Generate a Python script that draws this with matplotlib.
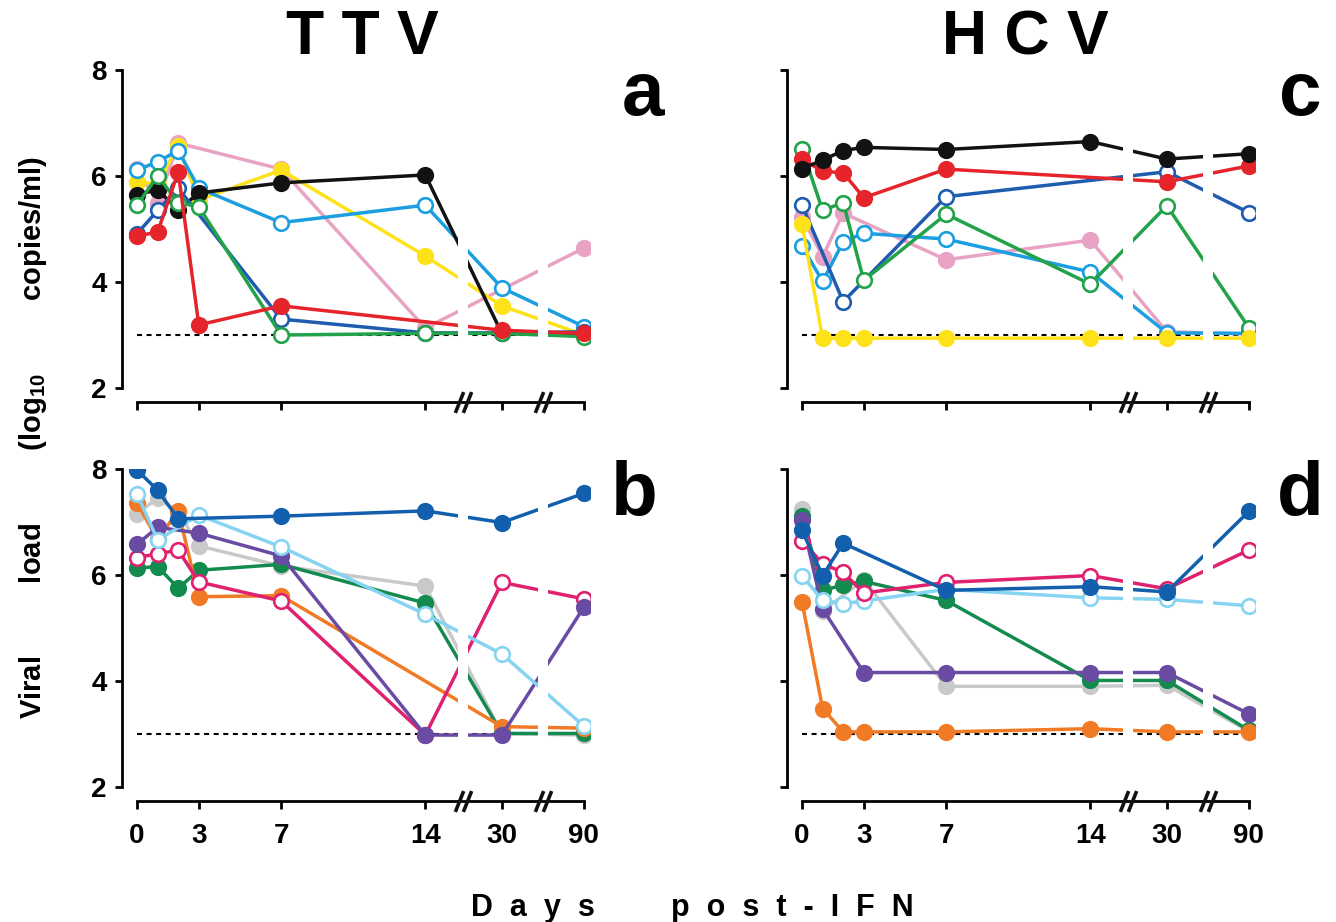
import numpy as np
import matplotlib
matplotlib.use("Agg")
import matplotlib.pyplot as plt
from matplotlib import transforms

plt.rcParams['font.family'] = ['Liberation Sans', 'DejaVu Sans']
plt.rcParams['font.weight'] = 'bold'
plt.rcParams['mathtext.fontset'] = 'custom'
plt.rcParams['mathtext.rm'] = 'Liberation Sans:bold'
plt.rcParams['mathtext.bf'] = 'Liberation Sans:bold'
plt.rcParams['mathtext.it'] = 'Liberation Sans:bold'

# ---------------- data ----------------
days = [0, 1, 2, 3, 7, 14, 30, 90]
tick_days = [0, 3, 7, 14, 30, 90]
tick_labels = ["0", "3", "7", "14", "30", "90"]
nan = np.nan

# group 1 (panels a: TTV, c: HCV)
ttv_a_black = [5.65, 5.74, 5.36, 5.68, 5.87, 6.02, 3.03, 3.00]
ttv_a_red = [4.87, 4.94, 6.08, 3.19, 3.55, nan, 3.09, 3.03]
ttv_a_blue = [4.91, 5.35, 5.77, nan, 3.30, 3.04, 3.04, 3.06]
ttv_a_green = [5.45, 6.00, 5.50, 5.42, 3.00, 3.03, 3.03, 2.97]
ttv_a_pink = [6.13, 5.50, 6.62, nan, 6.13, 3.13, nan, 4.64]
ttv_a_yellow = [5.89, 5.85, 6.57, 5.55, 6.11, 4.49, 3.55, 3.00]
ttv_a_cyan = [6.11, 6.27, 6.48, 5.77, 5.12, 5.45, 3.89, 3.16]

hcv_c_black = [6.14, 6.30, 6.48, 6.54, 6.50, 6.65, 6.32, 6.42]
hcv_c_red = [6.32, 6.09, 6.06, 5.59, 6.13, nan, 5.89, 6.19]
hcv_c_blue = [5.45, nan, 3.63, nan, 5.61, nan, 6.08, 5.31]
hcv_c_green = [6.51, 5.35, 5.50, 4.03, 5.28, 3.96, 5.44, 3.14]
hcv_c_pink = [5.23, 4.48, 5.30, nan, 4.42, 4.79, 3.06, 3.02]
hcv_c_yellow = [5.09, 2.94, 2.94, 2.94, 2.94, 2.94, 2.94, 2.94]
hcv_c_cyan = [4.68, 4.01, 4.76, 4.92, 4.81, 4.19, 3.04, 3.03]

# group 2 (panels b: TTV, d: HCV)
ttv_b_blue = [7.98, 7.60, 7.06, nan, 7.11, 7.21, 6.99, 7.54]
ttv_b_lightblue = [7.53, 6.66, nan, 7.13, 6.53, 5.26, 4.51, 3.15]
ttv_b_orange = [7.36, 6.67, 7.21, 5.59, 5.61, nan, 3.14, 3.11]
ttv_b_gray = [7.16, 7.45, 7.19, 6.55, 6.17, 5.79, 3.01, 2.98]
ttv_b_purple = [6.58, 6.90, nan, 6.79, 6.36, 2.98, 2.98, 5.39]
ttv_b_magenta = [6.33, 6.40, 6.47, 5.87, 5.51, 2.98, 5.86, 5.55]
ttv_b_green = [6.13, 6.16, 5.75, 6.09, 6.20, 5.47, 3.01, 3.01]

hcv_d_blue = [6.84, 5.99, 6.60, nan, 5.71, 5.78, 5.68, 7.20]
hcv_d_lightblue = [5.99, 5.52, 5.46, 5.51, 5.73, 5.57, 5.54, 5.42]
hcv_d_orange = [5.49, 3.48, 3.04, 3.04, 3.04, 3.10, 3.04, 3.04]
hcv_d_gray = [7.25, 5.32, nan, 5.91, 3.90, 3.90, 3.92, 3.05]
hcv_d_purple = [7.03, 5.36, nan, 4.16, 4.16, 4.16, 4.16, 3.38]
hcv_d_magenta = [6.65, 6.21, 6.05, 5.66, 5.86, 5.99, 5.74, 6.47]
hcv_d_green = [7.12, 5.71, 5.81, 5.88, 5.52, 4.01, 4.01, 3.07]

detection_limit = 3.0

# ---------------- styles ----------------
styles = {
    "black": dict(color="#121212", filled=True),
    "red": dict(color="#e5242b", filled=True),
    "blue": dict(color="#1f5cb0", filled=False),
    "green": dict(color="#22a34a", filled=False),
    "pink": dict(color="#e8a3c4", filled=True),
    "yellow": dict(color="#fde21a", filled=True),
    "cyan": dict(color="#1c9fe0", filled=False),
    "dblue": dict(color="#1260ad", filled=True),
    "lightblue": dict(color="#86d3f2", filled=False),
    "orange": dict(color="#f07a26", filled=True),
    "gray": dict(color="#c9c9c9", filled=True),
    "purple": dict(color="#6a4ba3", filled=True),
    "magenta": dict(color="#e02170", filled=False),
    "dgreen": dict(color="#138a4e", filled=True),
}

panel_a = [("pink", ttv_a_pink), ("yellow", ttv_a_yellow), ("cyan", ttv_a_cyan),
           ("black", ttv_a_black), ("blue", ttv_a_blue), ("green", ttv_a_green),
           ("red", ttv_a_red)]
panel_c = [("pink", hcv_c_pink), ("cyan", hcv_c_cyan), ("blue", hcv_c_blue),
           ("green", hcv_c_green), ("yellow", hcv_c_yellow), ("red", hcv_c_red),
           ("black", hcv_c_black)]
panel_b = [("gray", ttv_b_gray), ("dgreen", ttv_b_green), ("orange", ttv_b_orange),
           ("magenta", ttv_b_magenta), ("purple", ttv_b_purple),
           ("lightblue", ttv_b_lightblue), ("dblue", ttv_b_blue)]
panel_d = [("gray", hcv_d_gray), ("dgreen", hcv_d_green), ("purple", hcv_d_purple),
           ("orange", hcv_d_orange), ("lightblue", hcv_d_lightblue),
           ("magenta", hcv_d_magenta), ("dblue", hcv_d_blue)]

# broken x scale: linear to day 14, then compressed segments
def xpos(d):
    return np.interp(d, [0, 14, 30, 90], [0, 14, 17.72, 21.7])

W, H = 1336, 922
fig = plt.figure(figsize=(W / 100, H / 100), dpi=100)

def add_ax(left, top, right, bottom):
    return fig.add_axes([left / W, 1 - bottom / H, (right - left) / W, (bottom - top) / H])

PX = 72 / 100  # points per pixel
breaks = [15.83, 19.71]

def setup(ax, show_xlabels, show_ylabels):
    ax.set_xlim(-0.73, 22.0)
    ax.set_ylim(2, 8)
    for s in ["top", "right"]:
        ax.spines[s].set_visible(False)
    ax.spines["left"].set_linewidth(2.0)
    ax.spines["bottom"].set_linewidth(2.0)
    ax.spines["bottom"].set_position(("outward", 14 * PX))
    ax.spines["bottom"].set_bounds(xpos(0), xpos(90))
    ax.set_yticks([2, 4, 6, 8])
    ax.set_xticks([xpos(d) for d in tick_days])
    ax.tick_params(axis="y", direction="out", length=7 * PX, width=2.0, pad=8 * PX,
                   labelsize=20, labelleft=show_ylabels)
    ax.tick_params(axis="x", direction="out", length=8 * PX, width=2.0, pad=14 * PX,
                   labelsize=20, labelbottom=show_xlabels)
    ax.set_xticklabels(tick_labels, fontweight="bold")
    ax.set_yticklabels(["2", "4", "6", "8"], fontweight="bold")
    ax.patch.set_visible(False)
    # break marks on the x axis
    trans = transforms.offset_copy(
        transforms.blended_transform_factory(ax.transData, ax.transAxes),
        fig=fig, x=0, y=-14 * PX, units="points")
    for b in breaks:
        ax.plot([b - 0.2, b + 0.2], [0, 0], transform=trans, lw=0,
                marker=[(-0.4, -1), (0.4, 1)],
                markersize=15, mew=2.6, color="#111111", clip_on=False, zorder=20)
        # white gaps in the data lines
        ax.axvspan(b - 0.25, b + 0.25, color="white", zorder=10, lw=0)
    ax.plot([xpos(0), xpos(90)], [detection_limit] * 2, ls=(0, (2.4, 2.2)),
            color="black", lw=1.5, zorder=1)

def draw(ax, series):
    x = xpos(np.array(days, dtype=float))
    for i, (name, vals) in enumerate(series):
        st = styles[name]
        v = np.array(vals, dtype=float)
        m = ~np.isnan(v)
        ax.plot(x[m], v[m], color=st["color"], lw=2.5, zorder=2 + i * 0.1,
                marker="o", markersize=10.5,
                markerfacecolor=st["color"] if st["filled"] else "white",
                markeredgecolor=st["color"], markeredgewidth=1.9)

ax_a = add_ax(122, 70, 590, 388)
ax_b = add_ax(122, 469, 590, 787)
ax_c = add_ax(787, 70, 1255, 388)
ax_d = add_ax(787, 469, 1255, 787)

setup(ax_a, False, True)
setup(ax_b, True, True)
setup(ax_c, False, False)
setup(ax_d, True, False)
draw(ax_a, panel_a)
draw(ax_b, panel_b)
draw(ax_c, panel_c)
draw(ax_d, panel_d)

# titles
fig.text(362 / W, 1 - 38 / H, "T T V", fontsize=45, fontweight="bold", ha="center", va="center")
fig.text(1025 / W, 1 - 38 / H, "H C V", fontsize=45, fontweight="bold", ha="center", va="center")

# panel letters
for lbl, (px, py) in zip(["a", "b", "c", "d"], [(643, 96), (634, 496), (1300, 96), (1300, 496)]):
    fig.text(px / W, 1 - py / H, lbl, fontsize=55, fontweight="bold", ha="center", va="center")

# axis labels
fig.text(33 / W, 1 - 437 / H, "Viral         load         (log$_{10}$         copies/ml)",
         fontsize=21, fontweight="bold", rotation=90, ha="center", va="center")
fig.text(533 / W, 1 - 908 / H, "D  a  y  s", fontsize=22, fontweight="bold", ha="center", va="center")
fig.text(792 / W, 1 - 908 / H, "p  o  s  t  -  I  F  N", fontsize=22, fontweight="bold", ha="center", va="center")

fig.savefig("out.png", dpi=100, facecolor="white")
